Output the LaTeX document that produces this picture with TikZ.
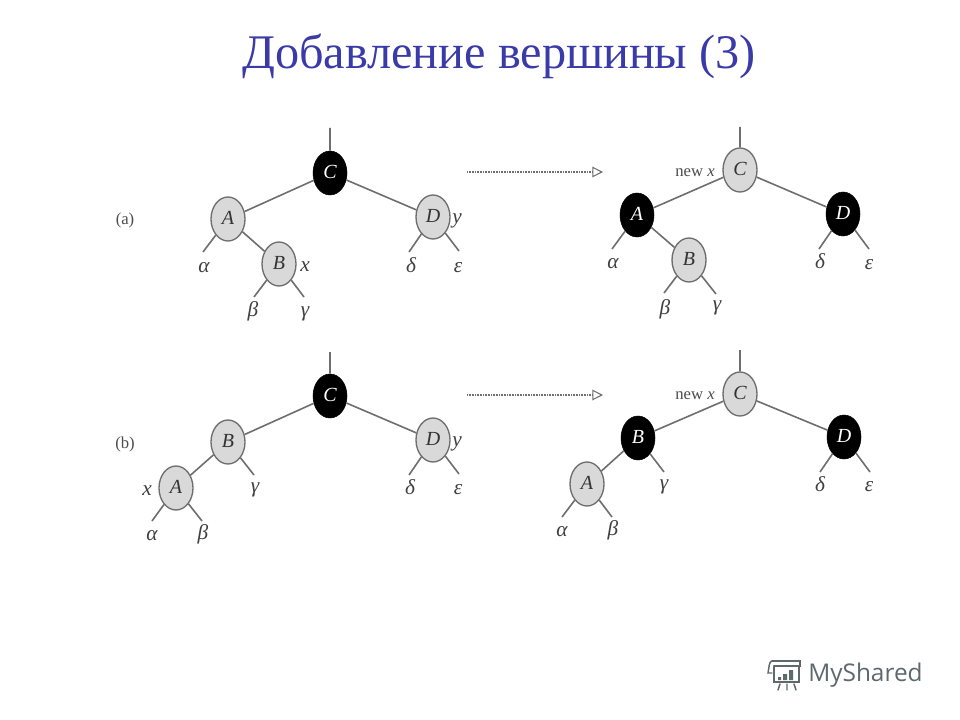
\documentclass[tikz,border=0pt]{standalone}
\usepackage{fontspec}
\setmainfont{Liberation Serif}
\newfontfamily\markfont{Open Sans}
\usetikzlibrary{shapes.geometric,arrows.meta}
\definecolor{titleblue}{HTML}{3A3AA8}
\definecolor{edgegray}{HTML}{6E6E6E}
\definecolor{nodegray}{HTML}{D9D9D9}
\definecolor{markgray}{HTML}{5E6A6A}
\tikzset{
 x=0.75pt,y=-0.75pt,
 rb/.style={ellipse,minimum width=25.5pt,minimum height=33pt,inner sep=0pt,text height=8pt,text depth=0pt,font=\fontsize{15}{15}\selectfont\itshape},
 lightnode/.style={rb,draw=edgegray,line width=1pt,fill=nodegray,text=black!80},
 darknode/.style={rb,draw=black,fill=black,text=white},
 edgeline/.style={draw=edgegray,line width=1.2pt},
 lab/.style={inner sep=0pt,yshift=-1.2pt,font=\fontsize{16}{16}\selectfont\itshape,text=black!75},
 tag/.style={inner sep=0pt,font=\fontsize{12.5}{12.5}\selectfont,text=black!70},
 flow/.style={draw=edgegray,line width=1.4pt,dash pattern=on 0.8pt off 0.4pt,-{Triangle[open,length=8pt,width=8pt,line width=0.8pt]}},
}
\begin{document}
\begin{tikzpicture}
\useasboundingbox (0,0) rectangle (960,720);
\fill[white] (0,0) rectangle (960,720);
\node[inner sep=0pt,text=titleblue,font=\fontsize{36.2}{36.2}\selectfont] (title) at (499,56) {Добавление вершины (3)};
\node[tag] (taga) at (125,220) {(a)};
\node[tag] (tagb) at (125,444) {(b)};

% (a) left
\node[darknode] (aC) at (330,173) {C};
\node[lightnode] (aA) at (228,219) {A};
\node[lightnode] (aB) at (279,264) {B};
\node[lightnode] (aD) at (433,217) {D};
\coordinate (aTop) at (330,128);
\coordinate (a1) at (203,252);\coordinate (a2) at (254,297);\coordinate (a3) at (304,297);\coordinate (a4) at (409,252);\coordinate (a5) at (459,251);
\node[lab] at (204,266) {α};
\node[lab] at (253,310) {β};
\node[lab] at (305,312) {γ};
\node[lab] at (411,264) {δ};
\node[lab] at (458,266) {ε};
\node[lab] at (305,265) {x};
\node[lab] at (457,219) {y};
\draw[edgeline] (aC)--(aTop) (aC)--(aA) (aC)--(aD) (aA)--(aB) (aA)--(a1) (aB)--(a2) (aB)--(a3) (aD)--(a4) (aD)--(a5);

% (a) right
\node[lightnode] (bC) at (740,170) {C};
\node[darknode] (bA) at (637,215) {A};
\node[lightnode] (bB) at (689,260) {B};
\node[darknode] (bD) at (843,214) {D};
\coordinate (bTop) at (740,127);
\coordinate (b1) at (612,249);\coordinate (b2) at (664,293);\coordinate (b3) at (716,294);\coordinate (b4) at (819,249);\coordinate (b5) at (869,249);
\node[lab] at (613,262) {α};
\node[lab] at (665,308) {β};
\node[lab] at (717,306) {γ};
\node[lab] at (820,260) {δ};
\node[lab] at (869,263) {ε};
\node[tag] at (695,173) {new \textit{x}};
\draw[edgeline] (bC)--(bTop) (bC)--(bA) (bC)--(bD) (bA)--(bB) (bA)--(b1) (bB)--(b2) (bB)--(b3) (bD)--(b4) (bD)--(b5);
\coordinate (f1s) at (467,172);\coordinate (f1e) at (603,172);
\draw[flow] (f1s)--(f1e);

% (b) left
\node[darknode] (cC) at (330,396) {C};
\node[lightnode] (cB) at (228,442) {B};
\node[lightnode] (cA) at (176,488) {A};
\node[lightnode] (cD) at (433,440) {D};
\coordinate (cTop) at (330,352);
\coordinate (c1) at (152,521);\coordinate (c2) at (202,521);\coordinate (c3) at (254,475);\coordinate (c4) at (409,475);\coordinate (c5) at (459,474);
\node[lab] at (152,534) {α};
\node[lab] at (203,533) {β};
\node[lab] at (255,488) {γ};
\node[lab] at (410,486) {δ};
\node[lab] at (458,488) {ε};
\node[lab] at (147,489) {x};
\node[lab] at (457,442) {y};
\draw[edgeline] (cC)--(cTop) (cC)--(cB) (cC)--(cD) (cB)--(cA) (cA)--(c1) (cA)--(c2) (cB)--(c3) (cD)--(c4) (cD)--(c5);

% (b) right
\node[lightnode] (dC) at (740,394) {C};
\node[darknode] (dB) at (638,438) {B};
\node[lightnode] (dA) at (587,484) {A};
\node[darknode] (dD) at (844,437) {D};
\coordinate (dTop) at (740,350);
\coordinate (d1) at (562,517);\coordinate (d2) at (612,517);\coordinate (d3) at (664,472);\coordinate (d4) at (820,472);\coordinate (d5) at (870,472);
\node[lab] at (562,530) {α};
\node[lab] at (613,529) {β};
\node[lab] at (664,485) {γ};
\node[lab] at (820,483) {δ};
\node[lab] at (869,485) {ε};
\node[tag] at (695,396) {new \textit{x}};
\draw[edgeline] (dC)--(dTop) (dC)--(dB) (dC)--(dD) (dB)--(dA) (dA)--(d1) (dA)--(d2) (dB)--(d3) (dD)--(d4) (dD)--(d5);
\coordinate (f2s) at (467,395);\coordinate (f2e) at (603,395);
\draw[flow] (f2s)--(f2e);

% watermark
\node[inner sep=0pt,anchor=west,text=markgray,font=\markfont\fontsize{18.3}{18.3}\selectfont] (mark) at (808,675) {MyShared};
\begin{scope}[draw=markgray,line width=1.1pt,line cap=round]
\draw (772,661) -- (800,661) -- (800,666) -- (774,666);
\draw (772,661) .. controls (769,661) and (769,668) .. (768,673) -- (772,673);
\draw (774,666) -- (774,682) -- (799,682) -- (799,666);
\draw (780,684) -- (778,690) (787,684) -- (787,690) (794,684) -- (796,690);
\fill[markgray] (778,677) rectangle (781,680) (783,674) rectangle (787,680) (789,670) rectangle (793,680);
\end{scope}
\end{tikzpicture}
\end{document}
